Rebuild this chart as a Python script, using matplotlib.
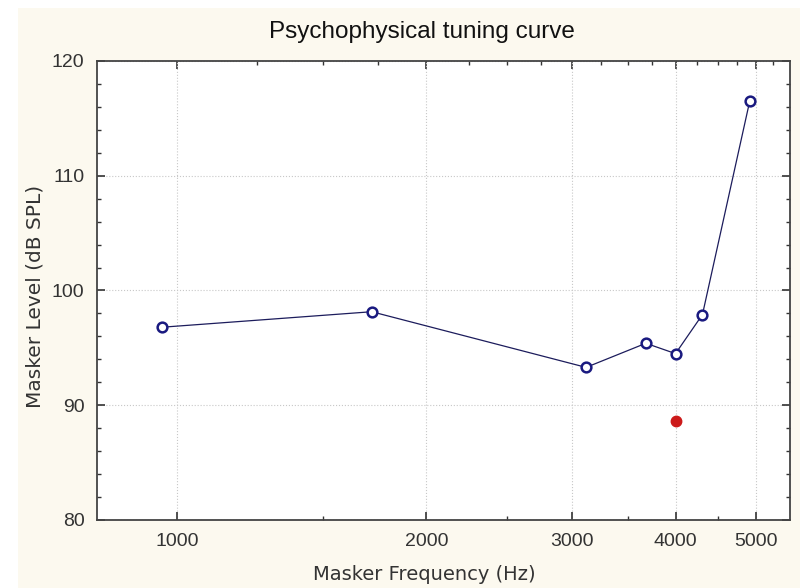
import numpy as np
import matplotlib.pyplot as plt
from matplotlib.patches import Rectangle
from matplotlib.ticker import FixedLocator, NullFormatter, MultipleLocator

plt.rcParams['font.family'] = ['Liberation Sans', 'DejaVu Sans']

# masker frequencies (Hz) and levels (dB SPL)
freq = [959, 1718, 3119, 3683, 4000, 4311, 4917]
level = [96.8, 98.15, 93.3, 95.4, 94.5, 97.9, 116.5]

# probe tone
probe_freq = [4000]
probe_level = [88.65]

xticks = [1000, 2000, 3000, 4000, 5000]
yticks = [80, 90, 100, 110, 120]

fig = plt.figure(figsize=(8, 5.88), dpi=100, facecolor='white')
fig.patches.append(Rectangle((18 / 800, 0), 1, 580 / 588, transform=fig.transFigure,
                             facecolor='#fcf9ef', edgecolor='none', zorder=-10))

ax = fig.add_axes([97 / 800, 1 - 520 / 588, (790 - 97) / 800, (520 - 61) / 588])
ax.set_facecolor('white')

ax.plot(freq, level, color='#1c1c5c', lw=0.9, marker='o', ms=7,
        mfc='white', mec='#1a1a80', mew=1.8, zorder=3)
ax.plot(probe_freq, probe_level, 'o', color='#cc1a1a', ms=7.5, zorder=3)

ax.set_xscale('log')
ax.set_xlim(800, 5500)
ax.set_ylim(80, 120)

# bottom axis: labelled majors, minor ticks every 500 Hz
ax.xaxis.set_major_locator(FixedLocator(xticks))
ax.xaxis.set_major_formatter(plt.FixedFormatter([str(t) for t in xticks]))
ax.xaxis.set_minor_locator(FixedLocator(np.arange(1500, 5500, 1000)))
ax.xaxis.set_minor_formatter(NullFormatter())
ax.set_yticks(yticks)
ax.yaxis.set_minor_locator(MultipleLocator(2))

ax.tick_params(which='both', direction='in', right=True,
               labelsize=14, colors='#333333', labelcolor='#333333')
ax.tick_params(which='major', length=6, width=1.2)
ax.tick_params(which='minor', length=3, width=1)
ax.tick_params(axis='x', pad=9)
ax.tick_params(axis='y', pad=9)

# top axis: finer minor ticks every 250 Hz, no labels
top = ax.secondary_xaxis('top')
top.xaxis.set_major_locator(FixedLocator(xticks))
top.xaxis.set_major_formatter(NullFormatter())
top.xaxis.set_minor_locator(FixedLocator(np.arange(1250, 5500, 250)))
top.xaxis.set_minor_formatter(NullFormatter())
top.tick_params(which='both', direction='in', colors='#333333')
top.tick_params(which='major', length=6, width=1.2)
top.tick_params(which='minor', length=3, width=1)
top.spines['top'].set_visible(False)

ax.grid(True, which='major', color='#c8c8c8', ls=':', lw=0.8)
for s in ax.spines.values():
    s.set_color('#444444')
    s.set_linewidth(1.3)

fig.text(0.527, 0.945, 'Psychophysical tuning curve', ha='center', va='center',
         fontsize=17.5, color='#111111')
fig.text(424 / 800, 1 - 574 / 588, 'Masker Frequency (Hz)', ha='center', va='center',
         fontsize=14, color='#333333', family='DejaVu Sans')
fig.text(35 / 800, 1 - 296 / 588, 'Masker Level (dB SPL)', ha='center', va='center',
         rotation=90, fontsize=14.5, color='#333333', family='DejaVu Sans')

fig.savefig('out.png', dpi=100, facecolor=fig.get_facecolor())
